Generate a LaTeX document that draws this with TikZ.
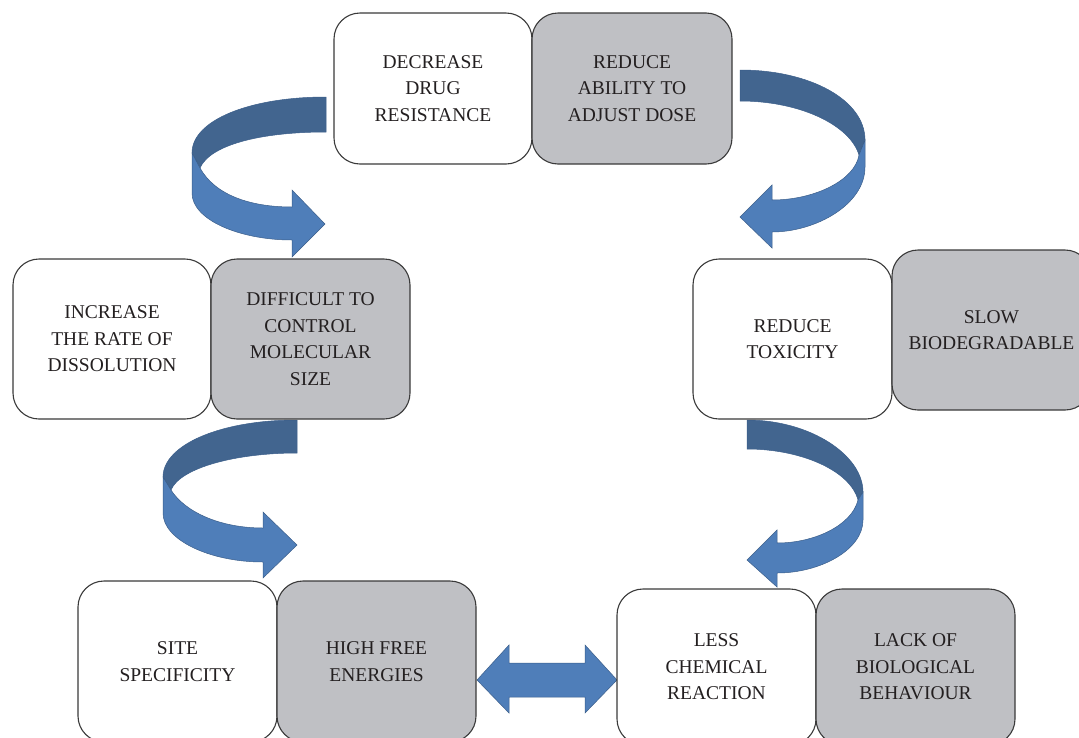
\documentclass[tikz,border=0pt]{standalone}
\usepackage{fontspec}
\setmainfont{Liberation Serif}
\definecolor{bandDark}{HTML}{42658F}
\definecolor{bandLight}{HTML}{4F7EB9}
\definecolor{bandEdge}{HTML}{3B5E8A}
\definecolor{greyFill}{HTML}{BFC0C4}
\definecolor{boxEdge}{HTML}{3A3A3A}
\definecolor{txt}{HTML}{231F20}
\tikzset{
  box/.style={draw=boxEdge, line width=1.1pt, rounded corners=26pt,
    minimum width=199pt, minimum height=160pt, align=center, inner sep=0pt,
    font=\fontsize{19.5}{26.5}\selectfont, text=txt},
  wbox/.style={box, fill=white},
  gbox/.style={box, fill=greyFill},
  darkpart/.style={fill=bandDark, draw=bandEdge, line width=0.5pt},
  lightpart/.style={fill=bandLight, draw=bandEdge, line width=0.5pt}
}
\begin{document}
\begin{tikzpicture}[x=1pt,y=-1pt]
\useasboundingbox (0,0) rectangle (1079,737);
\begin{scope}
\clip (0,0) rectangle (1079,737);
% arrow top-left
\path[darkpart] (326,97) .. controls (250,97) and (192,120) .. (192,153) -- (200,168) .. controls (210,145) and (260,132) .. (326,132) -- cycle;
\path[lightpart] (192,153) -- (192,193) .. controls (192,220) and (240,240) .. (292,240) -- (292,257) -- (325,224) -- (292,190) -- (292,207) .. controls (250,207) and (215,195) .. (200,168) -- cycle;
% arrow top-right
\path[darkpart] (740,70) .. controls (810,70) and (865,100) .. (865,140) -- (859,155) .. controls (850,125) and (800,101) .. (740,101) -- cycle;
\path[lightpart] (865,140) -- (865,167) .. controls (865,205) and (815,232) .. (772,232) -- (772,248) -- (740,217) -- (772,185) -- (772,200) .. controls (815,200) and (855,180) .. (859,155) -- cycle;
% arrow mid-left
\path[darkpart] (297,420) .. controls (220,420) and (163,445) .. (163,477) -- (171,490) .. controls (180,468) and (235,453) .. (297,453) -- cycle;
\path[lightpart] (163,477) -- (163,513) .. controls (163,540) and (210,562) .. (263,562) -- (263,578) -- (297,545) -- (263,512) -- (263,528) .. controls (220,528) and (185,512) .. (171,490) -- cycle;
% arrow mid-right
\path[darkpart] (747,420) .. controls (810,420) and (863,455) .. (863,492) -- (858,500) .. controls (850,470) and (800,449) .. (747,449) -- cycle;
\path[lightpart] (863,492) -- (863,520) .. controls (863,550) and (820,573) .. (777,573) -- (777,587) -- (747,560) -- (777,530) -- (777,543) .. controls (815,543) and (852,525) .. (858,500) -- cycle;
% double arrow
\path[lightpart] (477,680) -- (509,645) -- (509,663) -- (585,663) -- (585,645) -- (617,680) -- (585,713) -- (585,697) -- (509,697) -- (509,713) -- cycle;
% boxes
\node[wbox, minimum width=198pt, minimum height=151pt] (drug) at (433,88.5) {DECREASE\\DRUG\\RESISTANCE};
\node[gbox, minimum width=200pt, minimum height=151pt] (dose) at (632,88.5) {REDUCE\\ABILITY TO\\ADJUST DOSE};
\node[wbox, minimum width=198pt] (diss) at (112,339) {INCREASE\\THE RATE OF\\DISSOLUTION};
\node[gbox] (size) at (310.5,339) {DIFFICULT TO\\CONTROL\\MOLECULAR\\SIZE};
\node[wbox] (tox) at (792.5,339) {REDUCE\\TOXICITY};
\node[gbox] (bio) at (991.5,330) {SLOW\\BIODEGRADABLE};
\node[wbox, minimum height=161pt] (site) at (177.5,661.5) {SITE\\SPECIFICITY};
\node[gbox, minimum height=161pt] (free) at (376.5,661.5) {HIGH FREE\\ENERGIES};
\node[wbox, minimum height=156pt] (chem) at (716.5,667) {LESS\\CHEMICAL\\REACTION};
\node[gbox, minimum height=156pt] (lack) at (915.5,667) {LACK OF\\BIOLOGICAL\\BEHAVIOUR};
\end{scope}
\end{tikzpicture}
\end{document}
